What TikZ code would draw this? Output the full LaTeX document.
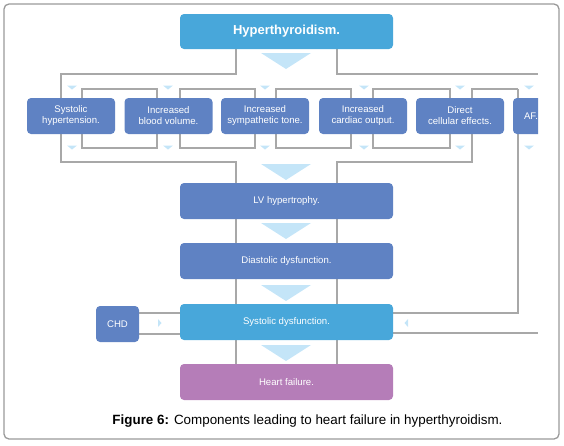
\documentclass[tikz,border=0pt]{standalone}
\usepackage{fontspec}
\setmainfont{Liberation Sans}
\usetikzlibrary{backgrounds,calc}
\definecolor{rowc}{HTML}{5F82C3}
\definecolor{mainb}{HTML}{48A7DA}
\definecolor{hfc}{HTML}{B57DB8}
\definecolor{linec}{HTML}{A8A8A8}
\definecolor{tric}{HTML}{C4E5F8}
\definecolor{framec}{HTML}{9A9A9A}
\begin{document}
\begin{tikzpicture}[x=1pt,y=-1pt,
 box/.style={rounded corners=4pt, text=white, font=\fontsize{9.6}{11}\selectfont, align=center, inner sep=0pt, minimum height=36pt},
 rowbox/.style={box, fill=rowc, minimum width=88pt},
 mainbox/.style={box, minimum width=213pt},
 conn/.style={draw=linec, line width=1.8pt},
 bigtri/.style={fill=tric},
 smalltri/.style={fill=tric},
]
\useasboundingbox (0,0) rectangle (564,445);
\draw[framec, line width=1.3pt, rounded corners=5pt] (4,4) rectangle (559,439);

\coordinate (xl) at (236,0);
\coordinate (xr) at (337,0);

% main column
\node[mainbox, fill=mainb, minimum height=35pt, font=\bfseries\fontsize{13}{15}\selectfont] (hyp) at (286.5,31.5) {Hyperthyroidism.};
\node[mainbox, fill=rowc] (lv) at (286.5,201) {LV hypertrophy.};
\node[mainbox, fill=rowc] (dia) at (286.5,261) {Diastolic dysfunction.};
\node[mainbox, fill=mainb] (sys) at (286.5,322) {Systolic dysfunction.};
\node[mainbox, fill=hfc] (hf) at (286.5,382) {Heart failure.};
\node[box, fill=rowc, minimum width=43pt] (chd) at (117.5,324) {CHD};

% row
\node[rowbox] (r1) at (71,116) {Systolic\\hypertension.};
\node[rowbox] (r2) at (168.5,116) {Increased\\blood volume.};
\node[rowbox] (r3) at (265,116) {Increased\\sympathetic tone.};
\node[rowbox] (r4) at (363,116) {Increased\\cardiac output.};
\node[rowbox] (r5) at (460,116) {Direct\\cellular effects.};
\begin{scope}
\clip (0,0) rectangle (538,445);
\node[rowbox, minimum width=36pt] (af) at (531,116) {AF.};
\end{scope}

\begin{pgfonlayer}{background}
\draw[conn] (hyp.south -| xl) -- (236,74) -- (61,74) -- (61,162) -- (236,162) -- (hf.north -| xl);
\draw[conn] (hyp.south -| xr) -- (337,74) -- (538,74);
\draw[conn] (518,89) -- (472,89) -- (472,162) -- (337,162) -- (hf.north -| xr);
\draw[conn] (518,89) -- (518,313) -- ($(sys.east)+(0,-9)$);
\draw[conn] ($(sys.east)+(0,11)$) -- (538,333);
\draw[conn] ($(chd.east)+(0,-11)$) -- ($(sys.west)+(0,-9)$);
\draw[conn] ($(chd.east)+(0,10)$) -- ($(sys.west)+(0,12)$);
\draw[conn] (82,89) rectangle (157,148);
\draw[conn] (180,89) rectangle (255,148);
\draw[conn] (276,89) rectangle (351,148);
\draw[conn] (373,89) rectangle (450,148);
\end{pgfonlayer}

% big triangles
\foreach \ty in {53,164,223,285,345}{
  \fill[bigtri] (261,\ty) -- (311,\ty) -- (286,\ty+16) -- cycle;
}
% small triangles
\foreach \tx in {72,168,265,364,460,529}{
  \fill[smalltri] (\tx-5,85.5) -- (\tx+5,85.5) -- (\tx,89.5) -- cycle;
  \fill[smalltri] (\tx-5,145.5) -- (\tx+5,145.5) -- (\tx,149.5) -- cycle;
}
\fill[smalltri] (158,319) -- (161.5,323) -- (158,327) -- cycle;
\fill[smalltri] (408,319) -- (404.5,323) -- (408,327) -- cycle;

\node[font=\fontsize{13.4}{15}\selectfont, inner sep=0pt] (cap) at (307.5,421) {\textbf{Figure 6:} Components leading to heart failure in hyperthyroidism.};
\end{tikzpicture}
\end{document}
